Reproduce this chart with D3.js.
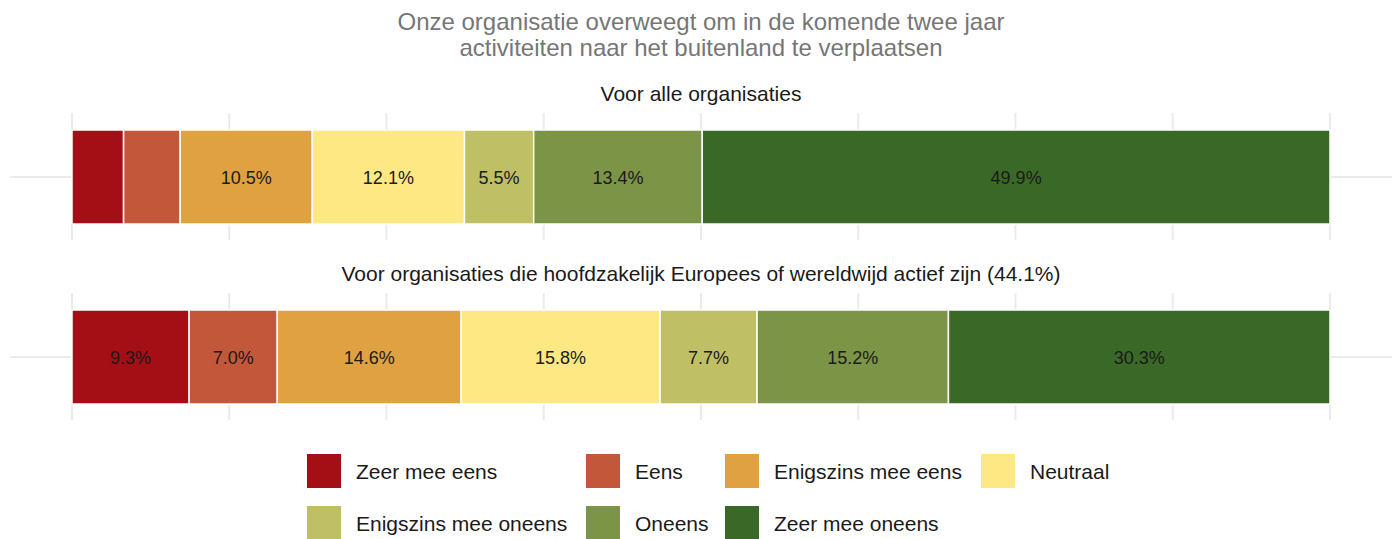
<!DOCTYPE html>
<html>
<head>
<meta charset="utf-8">
<script src="https://cdn.jsdelivr.net/npm/d3@7"></script>
<style>
  body { margin: 0; background: #fff; }
  text { font-family: "Liberation Sans", Arial, sans-serif; }
</style>
</head>
<body>
<div id="chart"></div>
<script>
// categories (legend order)
const categories = ['Zeer mee eens', 'Eens', 'Enigszins mee eens', 'Neutraal',
  'Enigszins mee oneens', 'Oneens', 'Zeer mee oneens'];
const colours = ['#a30f15', '#c2573a', '#e0a141', '#fee884', '#bfbf66', '#7b9446', '#3a6827'];

// panels
const panelTitles = ['Voor alle organisaties',
  'Voor organisaties die hoofdzakelijk Europees of wereldwijd actief zijn (44.1%)'];
const allValues = [4.1, 4.5, 10.5, 12.1, 5.5, 13.4, 49.9];
const intlValues = [9.3, 7.0, 14.6, 15.8, 7.7, 15.2, 30.3];
const gridBreaks = [0, 12.5, 25, 37.5, 50, 62.5, 75, 87.5, 100];

const width = 1400, height = 539;

const svg = d3.select('#chart').append('svg')
  .attr('width', width)
  .attr('height', height);

const x = d3.scaleLinear().domain([0, 100]).range([72, 1330]);

// title
svg.append('text')
  .attr('x', 701).attr('y', 30)
  .attr('text-anchor', 'middle')
  .style('font-size', '24px').style('fill', '#767676')
  .text('Onze organisatie overweegt om in de komende twee jaar');
svg.append('text')
  .attr('x', 701).attr('y', 56)
  .attr('text-anchor', 'middle')
  .style('font-size', '24px').style('fill', '#767676')
  .text('activiteiten naar het buitenland te verplaatsen');

const panels = [
  { title: panelTitles[0], values: allValues, top: 113 },
  { title: panelTitles[1], values: intlValues, top: 293 }
];

panels.forEach(p => {
  const g = svg.append('g');
  const barTop = p.top + 17, barH = 94;

  g.append('text')
    .attr('x', 701).attr('y', p.top - 12)
    .attr('text-anchor', 'middle')
    .style('font-size', '21px').style('fill', '#1a1a1a')
    .text(p.title);

  // grid
  g.selectAll('.vgrid')
    .data(gridBreaks)
    .enter().append('line')
      .attr('x1', d => x(d)).attr('x2', d => x(d))
      .attr('y1', p.top).attr('y2', p.top + 127)
      .attr('stroke', '#ebebeb').attr('stroke-width', 2);
  g.append('line')
    .attr('x1', 10).attr('x2', 1392)
    .attr('y1', barTop + barH / 2).attr('y2', barTop + barH / 2)
    .attr('stroke', '#ebebeb').attr('stroke-width', 2);

  // stacked segments, filled to 100%
  const total = d3.sum(p.values);
  let cum = 0;
  const segs = p.values.map((v, i) => {
    const share = v / total * 100;
    const s = { start: cum, end: cum + share, value: v, colour: colours[i] };
    cum += share;
    return s;
  });

  g.selectAll('.seg')
    .data(segs)
    .enter().append('rect')
      .attr('x', d => x(d.start))
      .attr('width', d => x(d.end) - x(d.start))
      .attr('y', barTop).attr('height', barH)
      .attr('fill', d => d.colour)
      .attr('stroke', '#fff').attr('stroke-width', 1.5);

  g.selectAll('.lbl')
    .data(segs.filter(d => d.value >= 5))
    .enter().append('text')
      .attr('x', d => x((d.start + d.end) / 2))
      .attr('y', barTop + barH / 2 + 6.5)
      .attr('text-anchor', 'middle')
      .style('font-size', '18px').style('fill', '#1a1a1a')
      .text(d => d.value.toFixed(1) + '%');
});

// legend
const legendCols = [307, 586, 725, 981];
const legendRows = [454, 506];
const legend = svg.append('g');
categories.forEach((c, i) => {
  const cx = legendCols[i % 4], cy = legendRows[Math.floor(i / 4)];
  legend.append('rect')
    .attr('x', cx).attr('y', cy)
    .attr('width', 34).attr('height', 34)
    .attr('fill', colours[i]);
  legend.append('text')
    .attr('x', cx + 49).attr('y', cy + 25)
    .style('font-size', '21px').style('fill', '#1a1a1a')
    .text(c);
});
</script>
</body>
</html>
